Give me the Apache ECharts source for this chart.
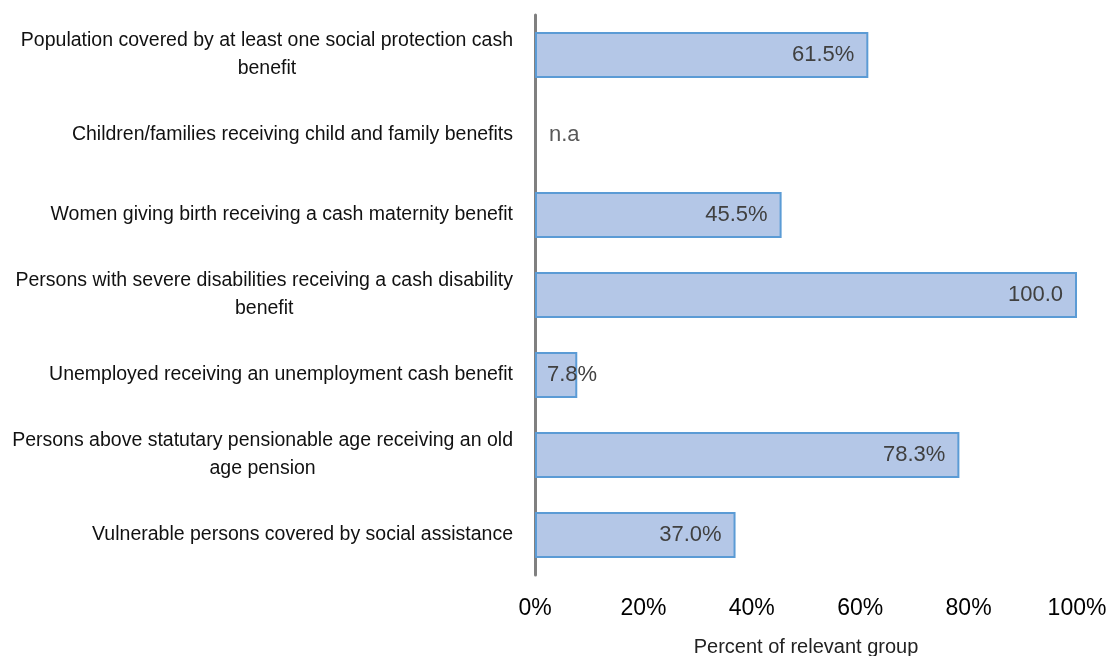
<!DOCTYPE html>
<html><head><meta charset="utf-8">
<script src="https://cdn.jsdelivr.net/npm/echarts@6/dist/echarts.min.js"></script>
<style>html,body{margin:0;padding:0;background:#fff}#c{width:1113px;height:656px}</style>
</head><body><div id="c"></div>
<script>
var categories = [
  "Population covered by at least one social protection cash\nbenefit",
  "Children/families receiving child and family benefits",
  "Women giving birth receiving a cash maternity benefit",
  "Persons with severe disabilities receiving a cash disability\nbenefit",
  "Unemployed receiving an unemployment cash benefit",
  "Persons above statutary pensionable age receiving an old\nage pension",
  "Vulnerable persons covered by social assistance"
];
var values = [61.5, null, 45.5, 100.0, 7.8, 78.3, 37.0];
var valueLabels = ["61.5%", "n.a", "45.5%", "100.0", "7.8%", "78.3%", "37.0%"];

var FONT = "'Liberation Sans Narrow', 'Liberation Sans', Arial, sans-serif";
var data = values.map(function (v, i) {
  if (v === null) {
    return { value: 0, itemStyle: { borderWidth: 0 },
      label: { position: 'insideLeft', distance: 14, formatter: valueLabels[i], color: '#595959' } };
  }
  if (v < 10) {
    return { value: v, label: { position: 'insideLeft', distance: 12, formatter: valueLabels[i] } };
  }
  return { value: v, label: { formatter: valueLabels[i] } };
});

var chart = echarts.init(document.getElementById('c'), null, { renderer: 'canvas' });
chart.setOption({
  animation: false,
  grid: { left: 535, right: 36, top: 15, bottom: 81, containLabel: false, outerBoundsMode: 'none' },
  xAxis: {
    type: 'value', min: 0, max: 100, interval: 20,
    axisLine: { show: false }, axisTick: { show: false }, splitLine: { show: false },
    axisLabel: { formatter: function (v) { return v + '%'; }, color: '#000', fontSize: 23, fontFamily: FONT, margin: 22 },
    name: 'Percent of relevant group', nameLocation: 'middle', nameGap: 62,
    nameTextStyle: { color: '#222', fontSize: 20, fontFamily: FONT }
  },
  yAxis: {
    type: 'category', data: categories, inverse: true,
    axisLine: { show: true, lineStyle: { color: '#808080', width: 3 } },
    axisTick: { show: false },
    axisLabel: {
      margin: 22, color: '#111', fontSize: 19.5, fontFamily: FONT, lineHeight: 28,
      formatter: function (v) {
        return v.split('\n').map(function (l) { return '{c|' + l + '}'; }).join('\n');
      },
      rich: { c: { align: 'center', fontSize: 19.5, fontFamily: FONT, color: '#111', lineHeight: 28 } }
    }
  },
  series: [{
    type: 'bar', data: data, barWidth: 46,
    itemStyle: { color: '#b4c7e7', borderColor: '#5b9bd5', borderWidth: 2 },
    label: { show: true, position: 'insideRight', distance: 14, color: '#404040', fontSize: 22, fontFamily: FONT }
  }]
});
</script></body></html>
